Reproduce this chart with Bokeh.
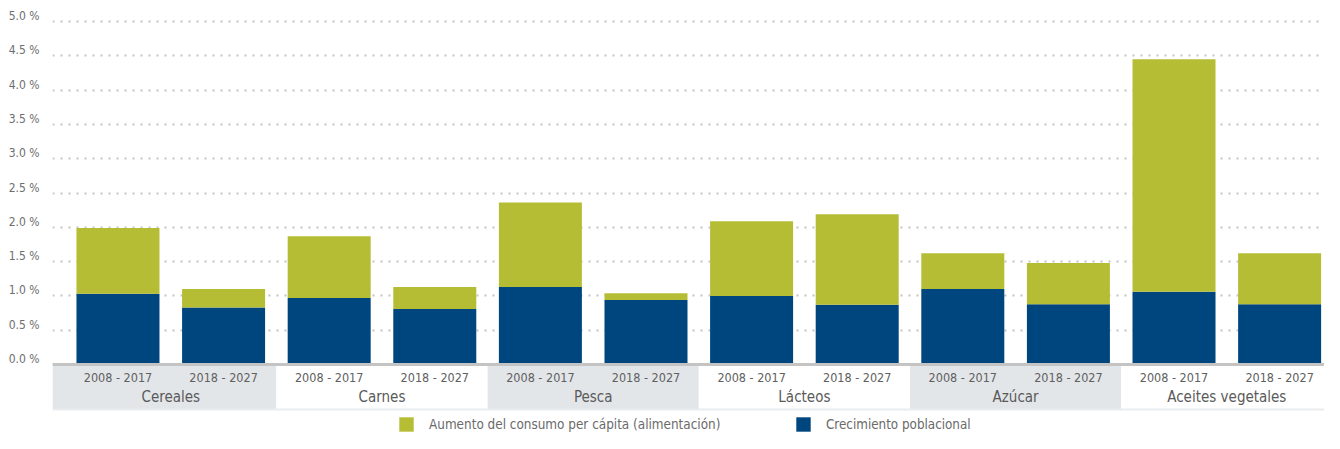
from bokeh.plotting import figure
from bokeh.models import Range1d, FixedTicker, Legend, LegendItem, Span, ColumnDataSource
from bokeh.core.properties import value
from bokeh.embed import file_html
from bokeh.resources import INLINE

# ---- data ----
categories = ["Cereales", "Carnes", "Pesca", "Lácteos", "Azúcar", "Aceites vegetales"]
periods = ["2008 - 2017", "2018 - 2027"]
poblacional = [1.03, 0.83, 0.97, 0.81, 1.13, 0.94, 1.00, 0.87, 1.10, 0.88, 1.06, 0.88]
consumo = [0.96, 0.27, 0.90, 0.32, 1.23, 0.10, 1.09, 1.32, 0.52, 0.60, 3.39, 0.74]
ytick_values = [0.0, 0.5, 1.0, 1.5, 2.0, 2.5, 3.0, 3.5, 4.0, 4.5, 5.0]
ytick_labels = ["0.0 %", "0.5 %", "1.0 %", "1.5 %", "2.0 %", "2.5 %", "3.0 %", "3.5 %", "4.0 %", "4.5 %", "5.0 %"]
series_names = ["Crecimiento poblacional", "Aumento del consumo per cápita (alimentación)"]

FONT = "DejaVu Sans Condensed"
GREEN = "#b5bd35"
BLUE = "#00467e"

n = len(categories) * len(periods)
xs = list(range(n))
period_labels = [periods[i % len(periods)] for i in xs]

PX = 68.6          # pixels per 1 % on the y axis
ZERO_PX = 364      # pixel row of the 0 % line
H = 433
x_start, x_end = -0.62, 11.425
p = figure(width=1324, height=H,
           x_range=Range1d(x_start, x_end),
           y_range=Range1d(-(H - ZERO_PX) / PX, ZERO_PX / PX),
           output_backend="svg", toolbar_location=None,
           x_axis_location=None,
           min_border_left=52, min_border_right=0, min_border_top=0, min_border_bottom=0)
p.outline_line_color = None
p.background_fill_color = "white"
p.xgrid.visible = False

# y axis: labels sit just above their grid line
label_lift = 5.5 / PX
label_ticks = [v + label_lift for v in ytick_values]
p.yaxis.ticker = FixedTicker(ticks=label_ticks)
p.yaxis.major_label_overrides = {v: l for v, l in zip(label_ticks, ytick_labels)}
p.yaxis.axis_line_color = None
p.yaxis.major_tick_line_color = None
p.yaxis.minor_tick_line_color = None
p.yaxis.major_tick_out = 0
p.yaxis.major_tick_in = 0
p.yaxis.major_label_standoff = 13
p.yaxis.major_label_text_font = FONT
p.yaxis.major_label_text_font_size = "12px"
p.yaxis.major_label_text_color = "#6e6e6e"

p.ygrid.ticker = FixedTicker(ticks=ytick_values)
p.ygrid.grid_line_color = "#c4c4c4"
p.ygrid.grid_line_dash = "2 6"
p.ygrid.grid_line_width = 2

# category bands
band_bottom = -45 / PX
groups = list(range(len(categories)))
band_left = [2 * g - 0.5 if g > 0 else x_start for g in groups]
band_right = [min(2 * g + 1.5, x_end) for g in groups]
band_color = ["#e3e6e9" if g % 2 == 0 else "#ffffff" for g in groups]
p.quad(left=band_left, right=band_right, top=[0] * len(groups), bottom=[band_bottom] * len(groups),
       fill_color=band_color, line_color=None)
p.add_layout(Span(location=band_bottom, dimension="width", line_color="#eaecee", line_width=2))

# bars
src = ColumnDataSource(dict(x=xs, pob=poblacional, con=consumo))
rs = p.vbar_stack(["pob", "con"], x="x", width=0.786, source=src,
                  fill_color=[BLUE, GREEN], line_color=None)

# axis line at 0
p.add_layout(Span(location=0, dimension="width", line_color="#c4c4c4", line_width=3))

# labels
p.text(x=xs, y=[-13 / PX] * n, text=period_labels, text_font=value(FONT),
       text_font_size="12.5px", text_align="center", text_baseline="middle", text_color="#606060")
cat_x = [2 * g + 0.5 for g in groups]
p.text(x=cat_x, y=[-32 / PX] * len(groups), text=categories, text_font=value(FONT),
       text_font_size="15px", text_align="center", text_baseline="middle", text_color="#5a5a5a")

# legends
for renderer, name, loc, fs in [(rs[1], series_names[1], (345, 0), "13.4px"),
                                (rs[0], series_names[0], (742, 0), "13.3px")]:
    lg = Legend(items=[LegendItem(label=name, renderers=[renderer])], location=loc,
                orientation="horizontal", glyph_width=18, glyph_height=18, label_standoff=14,
                label_text_font=FONT, label_text_font_size=fs, label_text_color="#6a6a6a",
                border_line_color=None, background_fill_alpha=0, padding=0, margin=0,
                label_height=18)
    p.add_layout(lg)

open("out.html", "w").write(file_html(p, INLINE))
